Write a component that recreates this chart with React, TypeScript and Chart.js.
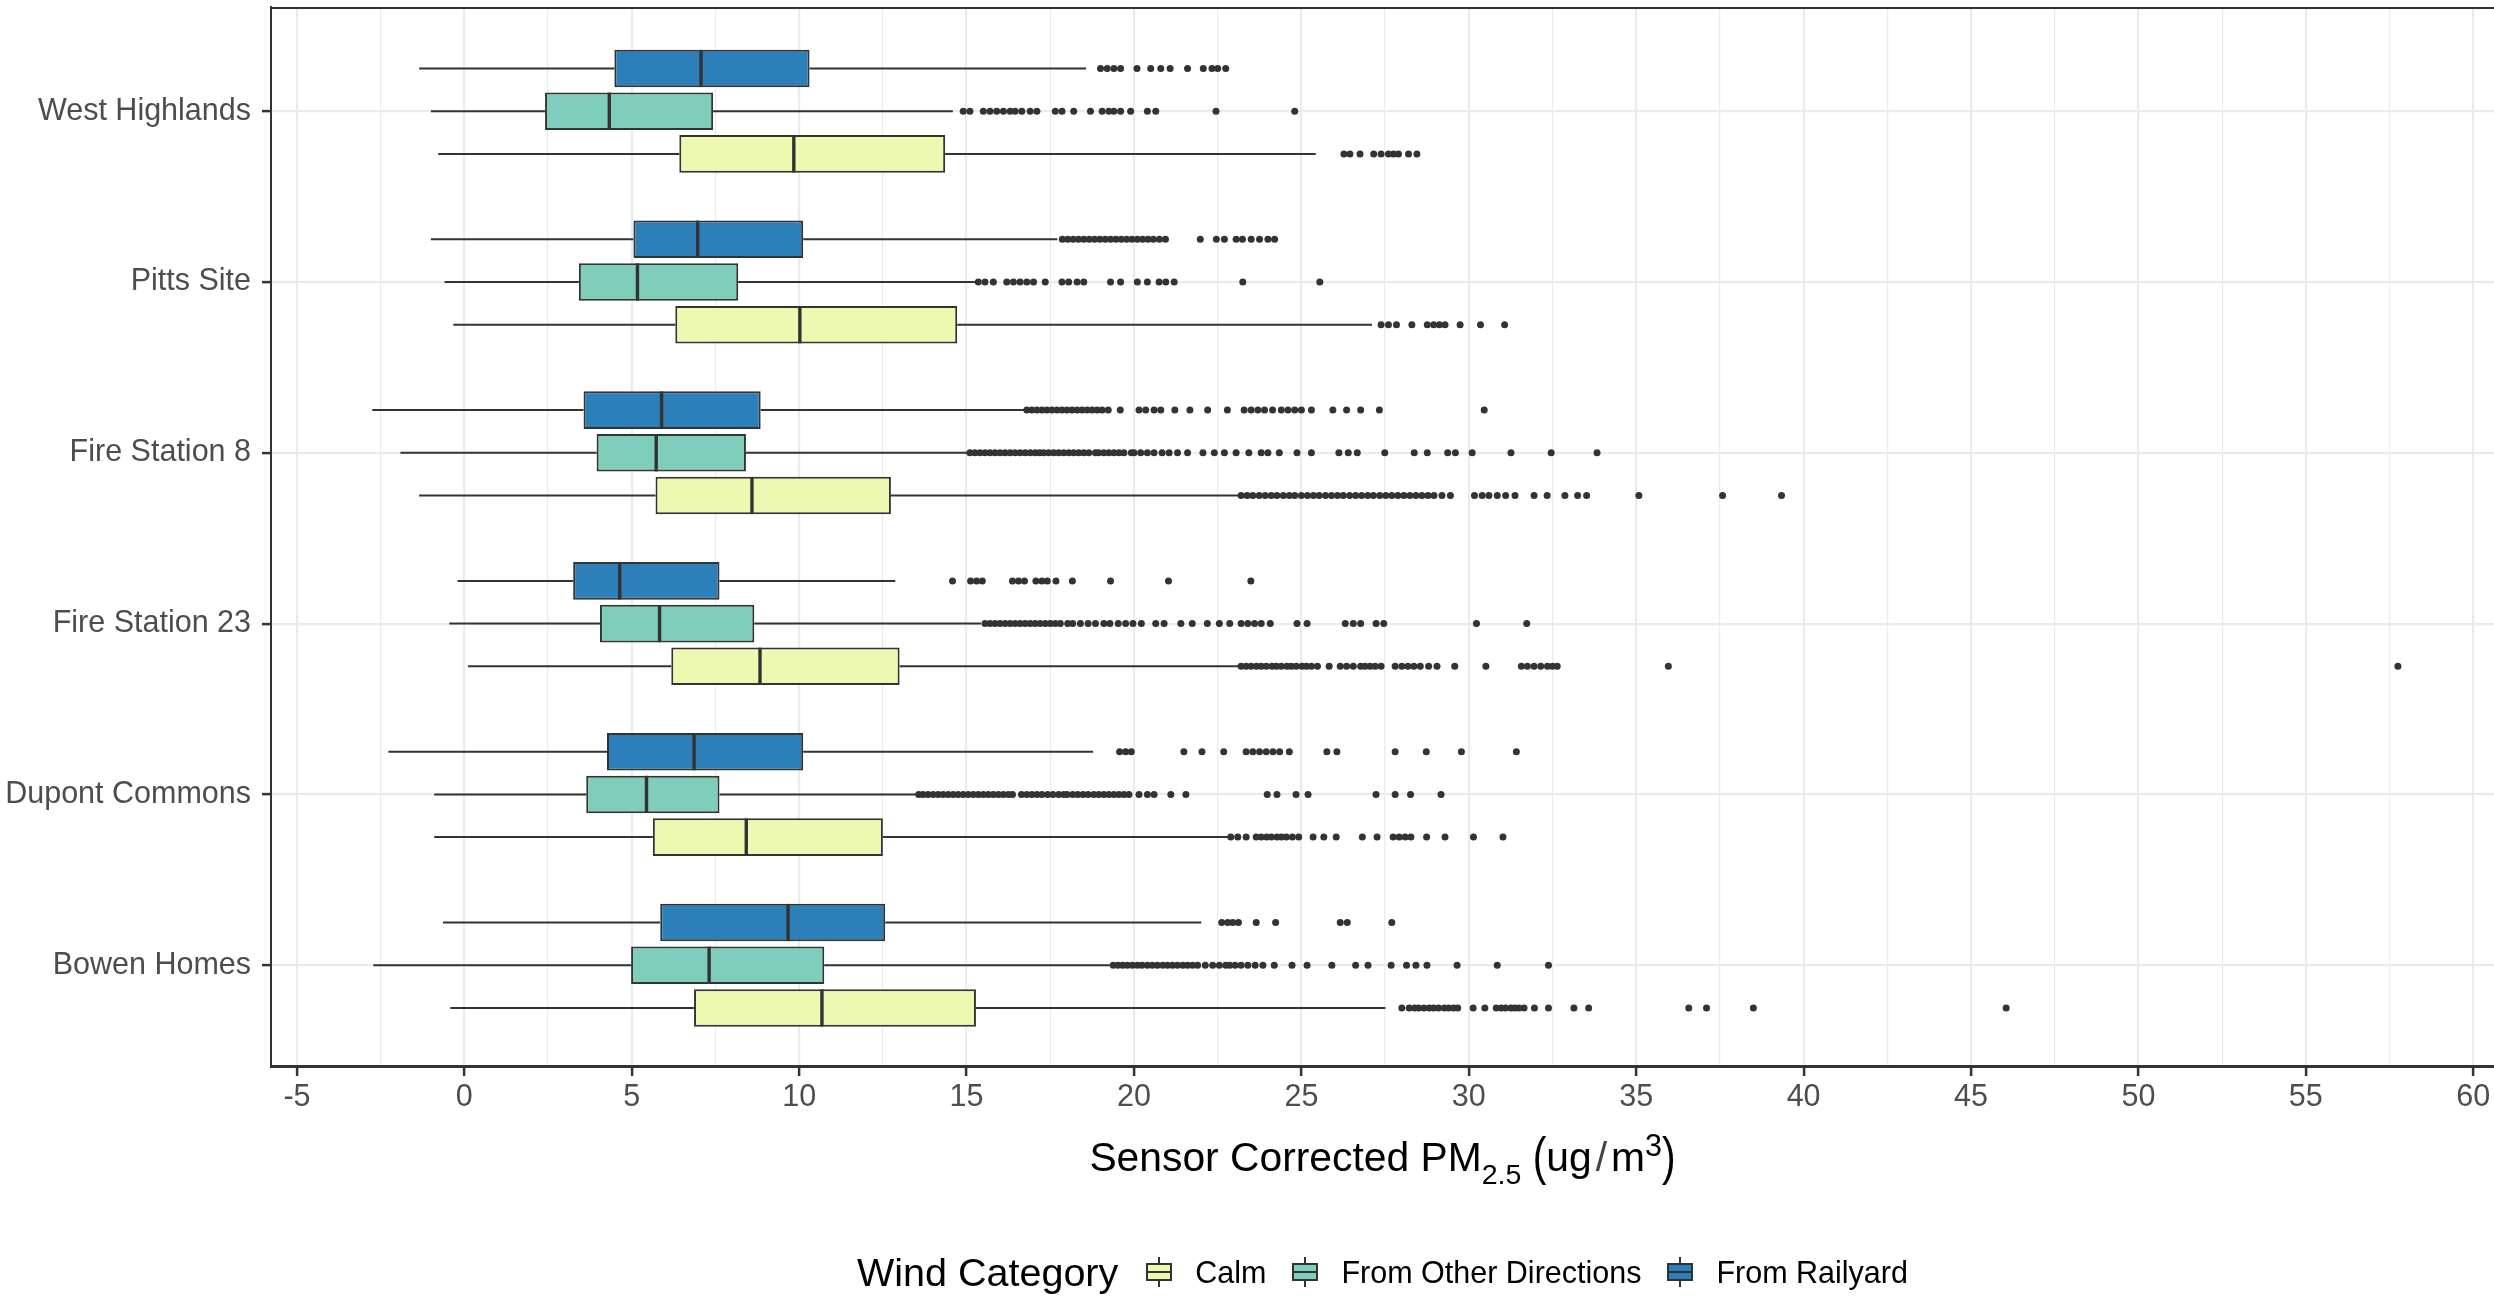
import React, { useEffect, useRef } from 'react';
import { Chart, registerables } from 'chart.js';

Chart.register(...registerables);

const FONT = "'Liberation Sans', Arial, Helvetica, sans-serif";

// Sites (bottom to top on the chart)
const sites = ['Bowen Homes', 'Dupont Commons', 'Fire Station 23', 'Fire Station 8', 'Pitts Site', 'West Highlands'];
const windCategories = ['Calm', 'From Other Directions', 'From Railyard'];
const fillColors = ['#EDF8B1', '#7FCDBB', '#2C7FB8'];

// Calm
const calmLower = [-0.42, -0.9, 0.11, -1.35, -0.33, -0.78];
const calmQ1 = [6.86, 5.63, 6.18, 5.71, 6.3, 6.42];
const calmMedian = [10.68, 8.42, 8.83, 8.59, 10.02, 9.84];
const calmQ3 = [15.28, 12.5, 13.0, 12.74, 14.72, 14.36];
const calmUpper = [27.51, 22.81, 23.2, 23.17, 27.11, 25.43];
const calmOutliers = [
  [28.0, 28.22, 28.38, 28.5, 28.66, 28.82, 28.95, 29.1, 29.27, 29.4, 29.55, 29.67, 30.13, 30.48, 30.82, 30.97, 31.1, 31.26, 31.38, 31.5, 31.65, 31.96, 32.38, 33.14, 33.58, 36.57, 37.1, 38.5, 46.05],
  [22.89, 23.1, 23.35, 23.65, 23.8, 23.96, 24.1, 24.27, 24.4, 24.55, 24.73, 24.92, 25.35, 25.67, 26.04, 26.82, 27.26, 27.74, 27.92, 28.1, 28.27, 28.74, 29.29, 30.14, 31.02],
  [23.2, 23.35, 23.5, 23.66, 23.8, 23.95, 24.12, 24.25, 24.4, 24.57, 24.7, 24.85, 25.02, 25.15, 25.3, 25.48, 25.83, 26.16, 26.35, 26.55, 26.77, 26.9, 27.05, 27.2, 27.38, 27.8, 28.0, 28.18, 28.36, 28.55, 28.8, 29.05, 29.58, 30.51, 31.57, 31.75, 31.95, 32.15, 32.35, 32.5, 32.64, 35.96, 57.75],
  [23.2, 23.38, 23.55, 23.74, 23.92, 24.1, 24.27, 24.46, 24.64, 24.8, 25.0, 25.18, 25.36, 25.53, 25.72, 25.9, 26.08, 26.25, 26.44, 26.62, 26.8, 26.98, 27.15, 27.34, 27.52, 27.7, 27.88, 28.06, 28.24, 28.42, 28.6, 28.78, 28.96, 29.2, 29.45, 30.17, 30.4, 30.6, 30.85, 31.1, 31.38, 31.95, 32.34, 32.87, 33.25, 33.52, 35.08, 37.58, 39.34],
  [27.38, 27.6, 27.84, 28.3, 28.76, 28.95, 29.12, 29.29, 29.74, 30.35, 31.07],
  [26.27, 26.45, 26.75, 27.16, 27.38, 27.6, 27.75, 27.9, 28.2, 28.45],
];

// From Other Directions
const otherLower = [-2.72, -0.9, -0.45, -1.91, -0.59, -1.0];
const otherQ1 = [4.98, 3.64, 4.05, 3.95, 3.42, 2.41];
const otherMedian = [7.31, 5.44, 5.83, 5.73, 5.17, 4.33];
const otherQ3 = [10.75, 7.62, 8.66, 8.41, 8.18, 7.43];
const otherUpper = [19.28, 13.57, 15.43, 15.05, 15.28, 14.59];
const otherOutliers = [
  [19.38, 19.52, 19.66, 19.8, 19.95, 20.1, 20.24, 20.4, 20.55, 20.7, 20.86, 21.0, 21.15, 21.3, 21.46, 21.6, 21.75, 21.9, 22.13, 22.35, 22.55, 22.74, 22.86, 23.02, 23.2, 23.4, 23.62, 23.85, 24.19, 24.72, 25.17, 25.91, 26.62, 26.99, 27.68, 28.14, 28.42, 28.75, 29.65, 30.85, 32.38],
  [13.57, 13.7, 13.85, 14.0, 14.15, 14.3, 14.45, 14.6, 14.75, 14.9, 15.05, 15.2, 15.35, 15.5, 15.65, 15.8, 15.95, 16.1, 16.25, 16.37, 16.64, 16.8, 16.95, 17.1, 17.25, 17.42, 17.58, 17.75, 17.9, 18.0, 18.17, 18.32, 18.48, 18.63, 18.8, 18.95, 19.1, 19.25, 19.4, 19.55, 19.7, 19.85, 20.15, 20.4, 20.6, 21.1, 21.55, 23.98, 24.27, 24.84, 25.2, 27.23, 27.8, 28.26, 29.17],
  [15.55, 15.7, 15.85, 16.0, 16.15, 16.3, 16.45, 16.6, 16.75, 16.9, 17.05, 17.2, 17.35, 17.5, 17.65, 17.8, 18.02, 18.17, 18.4, 18.63, 18.85, 19.1, 19.28, 19.53, 19.75, 19.97, 20.22, 20.65, 20.9, 21.4, 21.74, 22.19, 22.55, 22.86, 23.2, 23.4, 23.6, 23.8, 24.07, 24.87, 25.17, 26.31, 26.55, 26.77, 27.23, 27.46, 30.23, 31.73],
  [15.1, 15.25, 15.4, 15.55, 15.7, 15.85, 16.0, 16.15, 16.3, 16.45, 16.6, 16.75, 16.9, 17.05, 17.18, 17.3, 17.45, 17.6, 17.75, 17.9, 18.05, 18.2, 18.35, 18.5, 18.65, 18.85, 18.94, 19.1, 19.25, 19.4, 19.55, 19.7, 19.92, 20.0, 20.2, 20.4, 20.6, 20.84, 21.05, 21.3, 21.6, 22.06, 22.4, 22.7, 23.05, 23.43, 23.8, 24.0, 24.34, 24.87, 25.3, 26.12, 26.4, 26.67, 27.49, 28.37, 28.76, 29.37, 29.6, 30.1, 31.26, 32.46, 33.83],
  [15.35, 15.55, 15.8, 16.2, 16.4, 16.6, 16.8, 17.0, 17.35, 17.85, 18.05, 18.3, 18.5, 19.3, 19.6, 20.1, 20.4, 20.75, 20.95, 21.2, 23.25, 25.55],
  [14.9, 15.1, 15.5, 15.7, 15.9, 16.1, 16.3, 16.45, 16.65, 16.9, 17.1, 17.65, 17.85, 18.2, 18.7, 19.05, 19.25, 19.4, 19.6, 19.9, 20.4, 20.65, 22.45, 24.8],
];

// From Railyard
const railLower = [-0.64, -2.27, -0.2, -2.75, -1.0, -1.35];
const railQ1 = [5.85, 4.26, 3.25, 3.56, 5.05, 4.48];
const railMedian = [9.67, 6.86, 4.64, 5.89, 6.97, 7.07];
const railQ3 = [12.57, 10.12, 7.62, 8.85, 10.12, 10.31];
const railUpper = [22.01, 18.78, 12.87, 16.73, 17.71, 18.57];
const railOutliers = [
  [22.62, 22.8, 22.95, 23.12, 23.65, 24.23, 26.16, 26.37, 27.7],
  [19.57, 19.75, 19.92, 21.49, 22.03, 22.68, 23.35, 23.55, 23.75, 23.95, 24.15, 24.35, 24.64, 25.76, 26.06, 27.8, 28.73, 29.78, 31.42],
  [14.58, 15.12, 15.3, 15.47, 16.37, 16.55, 16.73, 17.07, 17.25, 17.41, 17.67, 18.16, 19.3, 21.03, 23.49],
  [16.8, 16.95, 17.1, 17.25, 17.4, 17.55, 17.7, 17.85, 18.0, 18.15, 18.3, 18.45, 18.6, 18.75, 18.9, 19.05, 19.23, 19.59, 20.15, 20.35, 20.6, 20.8, 21.22, 21.67, 22.2, 22.79, 23.29, 23.5, 23.7, 23.9, 24.14, 24.4, 24.6, 24.8, 25.0, 25.3, 25.94, 26.35, 26.77, 27.33, 30.46],
  [17.86, 18.02, 18.18, 18.34, 18.5, 18.66, 18.82, 18.98, 19.14, 19.3, 19.46, 19.62, 19.78, 19.94, 20.1, 20.26, 20.42, 20.58, 20.76, 20.94, 21.98, 22.46, 22.7, 23.05, 23.24, 23.5, 23.75, 24.0, 24.2],
  [19.0, 19.2, 19.4, 19.6, 20.09, 20.5, 20.8, 21.08, 21.6, 22.07, 22.33, 22.5, 22.74],
];

const DODGE = 0.25;

function buildDatasets(): any[] {
  const series = [
    { lower: calmLower, q1: calmQ1, median: calmMedian, q3: calmQ3, upper: calmUpper, outliers: calmOutliers },
    { lower: otherLower, q1: otherQ1, median: otherMedian, q3: otherQ3, upper: otherUpper, outliers: otherOutliers },
    { lower: railLower, q1: railQ1, median: railMedian, q3: railQ3, upper: railUpper, outliers: railOutliers },
  ];
  const ds: any[] = [];
  series.forEach((s, k) => {
    const off = (k - 1) * DODGE;
    const pos = (i: number) => i + 1 + off;
    const name = windCategories[k];
    ds.push({
      type: 'line',
      label: name + ' whiskers',
      data: sites.flatMap((_, i) => [
        { x: s.lower[i], y: pos(i) },
        { x: s.q1[i], y: pos(i) },
        { x: null, y: null },
        { x: s.q3[i], y: pos(i) },
        { x: s.upper[i], y: pos(i) },
        { x: null, y: null },
      ]),
      borderColor: '#333333',
      borderWidth: 2,
      pointRadius: 0,
      spanGaps: false,
      fill: false,
      tension: 0,
      order: 3,
    });
    ds.push({
      type: 'bar',
      label: name,
      indexAxis: 'y',
      grouped: false,
      data: sites.map((_, i) => ({ x: [s.q1[i], s.q3[i]], y: pos(i) })),
      backgroundColor: fillColors[k],
      borderColor: '#333333',
      borderWidth: 2,
      borderSkipped: false,
      categoryPercentage: 1,
      barPercentage: 0.88,
      order: 2,
    });
    ds.push({
      type: 'scatter',
      label: name + ' median',
      data: sites.map((_, i) => ({ x: s.median[i], y: pos(i) })),
      pointStyle: 'line',
      pointRotation: 90,
      pointRadius: 18.6,
      pointBorderWidth: 3.4,
      pointBorderColor: '#333333',
      order: 1,
    });
    ds.push({
      type: 'scatter',
      label: name + ' outliers',
      data: sites.flatMap((_, i) => s.outliers[i].map((v) => ({ x: v, y: pos(i) }))),
      pointRadius: 3.5,
      pointBackgroundColor: '#333333',
      pointBorderColor: '#333333',
      pointBorderWidth: 0,
      order: 1,
    });
  });
  return ds;
}

const topBorder = {
  id: 'topBorder',
  afterDatasetsDraw(chart: any) {
    const { ctx, chartArea } = chart;
    ctx.save();
    ctx.strokeStyle = '#333333';
    ctx.lineWidth = 2;
    ctx.beginPath();
    ctx.moveTo(chartArea.left, chartArea.top + 1);
    ctx.lineTo(chartArea.right, chartArea.top + 1);
    ctx.stroke();
    ctx.restore();
  },
};

function KeyGlyph({ fill }: { fill: string }) {
  return (
    <div style={{ position: 'relative', width: 26, height: 30, flex: '0 0 auto' }}>
      <div style={{ position: 'absolute', left: 12, top: 0, width: 2, height: 30, background: '#333333' }} />
      <div
        style={{
          position: 'absolute',
          left: 0,
          top: 6,
          width: 26,
          height: 18,
          boxSizing: 'border-box',
          border: '2px solid #333333',
          background: fill,
        }}
      />
      <div style={{ position: 'absolute', left: 0, top: 14, width: 26, height: 2, background: '#333333' }} />
    </div>
  );
}

const isMajor = (v: number) => Math.abs(v % 5) < 1e-9;

export default function App() {
  const ref = useRef<HTMLCanvasElement>(null);

  useEffect(() => {
    document.body.style.margin = '0';
    const canvas = ref.current;
    if (!canvas) return;
    const chart = new Chart(canvas, {
      type: 'scatter',
      data: { datasets: buildDatasets() },
      plugins: [topBorder],
      options: {
        animation: false,
        responsive: false,
        devicePixelRatio: 1,
        events: [],
        layout: { autoPadding: false, padding: { top: 7, right: 0, bottom: 0, left: 0 } },
        plugins: {
          legend: { display: false },
          tooltip: { enabled: false },
          title: { display: false },
        },
        scales: {
          x: {
            type: 'linear',
            offset: false,
            beginAtZero: false,
            min: -5.775,
            max: 60.62,
            afterFit: (s: any) => {
              s.height = 234;
              s.paddingLeft = 0;
              s.paddingRight = 0;
            },
            ticks: {
              stepSize: 2.5,
              includeBounds: false,
              autoSkip: false,
              maxRotation: 0,
              padding: 3,
              color: '#4D4D4D',
              font: { family: FONT, size: 30.5 },
              callback: (v: any) => (isMajor(Number(v)) ? String(v) : ''),
            },
            grid: {
              offset: false,
              color: '#EBEBEB',
              lineWidth: (c: any) => (c.tick && isMajor(c.tick.value) ? 2.2 : 1.2),
              tickLength: 10,
              tickWidth: 2.5,
              tickColor: (c: any) => (c.tick && isMajor(c.tick.value) ? '#333333' : 'rgba(0,0,0,0)'),
            },
            border: { color: '#333333', width: 3 },
          },
          y: {
            type: 'linear',
            offset: false,
            beginAtZero: false,
            min: 0.41,
            max: 6.61,
            afterFit: (s: any) => {
              s.width = 271;
              s.paddingTop = 0;
              s.paddingBottom = 0;
            },
            ticks: {
              stepSize: 1,
              includeBounds: false,
              autoSkip: false,
              padding: 11,
              color: '#4D4D4D',
              font: { family: FONT, size: 30.5 },
              callback: (v: any) => sites[Math.round(Number(v)) - 1] ?? '',
            },
            grid: {
              offset: false,
              color: '#EBEBEB',
              lineWidth: 2.2,
              tickLength: 9,
              tickWidth: 2.5,
              tickColor: '#333333',
            },
            border: { color: '#333333', width: 2 },
          },
        },
      } as any,
    });
    return () => chart.destroy();
  }, []);

  const parenStyle: React.CSSProperties = {
    display: 'inline-block',
    transform: 'scaleY(1.28)',
    transformOrigin: '50% 34px',
  };

  return (
    <div style={{ position: 'relative', width: 2494, height: 1300, background: '#ffffff', fontFamily: FONT, overflow: 'hidden' }}>
      <canvas ref={ref} width={2494} height={1300} style={{ display: 'block', width: 2494, height: 1300 }} />
      <div
        style={{
          position: 'absolute',
          left: 271,
          width: 2223,
          top: 1127,
          height: 60,
          lineHeight: '60px',
          textAlign: 'center',
          fontSize: 40.8,
          color: '#000000',
          whiteSpace: 'nowrap',
        }}
      >
        Sensor Corrected PM
        <span style={{ fontSize: '0.7em', position: 'relative', top: 13 }}>2.5</span>{' '}
        <span style={parenStyle}>(</span>ug
        <span style={{ margin: '0 4px', color: '#444444' }}>/</span>m
        <span style={{ fontSize: '0.75em', position: 'relative', top: -15 }}>3</span>
        <span style={parenStyle}>)</span>
      </div>
      <div
        style={{
          position: 'absolute',
          left: 271,
          width: 2223,
          top: 1247,
          height: 50,
          display: 'flex',
          justifyContent: 'center',
          alignItems: 'center',
          whiteSpace: 'nowrap',
          color: '#000000',
        }}
      >
        <span style={{ fontSize: 39.5, marginRight: 28 }}>Wind Category</span>
        {windCategories.map((c, k) => (
          <React.Fragment key={c}>
            <KeyGlyph fill={fillColors[k]} />
            <span style={{ fontSize: 30.5, marginLeft: 23, marginRight: k < windCategories.length - 1 ? 26 : 0 }}>{c}</span>
          </React.Fragment>
        ))}
      </div>
    </div>
  );
}
